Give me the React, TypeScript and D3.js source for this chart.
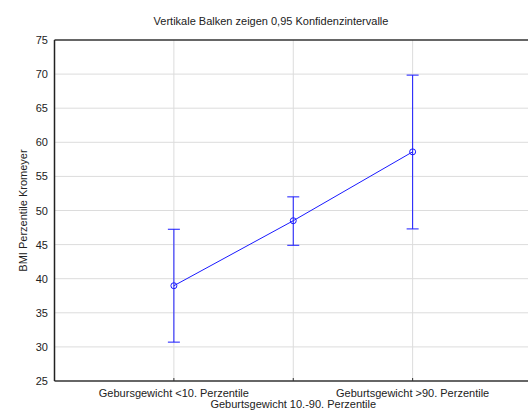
import React from "react";
import * as d3 from "d3";

const categories = [
  "Gebursgewicht <10. Perzentile",
  "Geburtsgewicht 10.-90. Perzentile",
  "Geburtsgewicht >90. Perzentile",
];
const means = [38.97, 48.5, 58.6];
const lower = [30.7, 44.9, 47.3];
const upper = [47.25, 52.0, 69.85];
const yTicks = [25, 30, 35, 40, 45, 50, 55, 60, 65, 70, 75];
const title = "Vertikale Balken zeigen 0,95 Konfidenzintervalle";
const yTitle = "BMI Perzentile Kromeyer";

export default function App() {
  const W = 528, H = 410;
  const left = 54.5, right = 532, top = 40, bottom = 381;
  const x = d3.scaleLinear().domain([0, 4]).range([left, right]);
  const y = d3.scaleLinear().domain([25, 75]).range([bottom, top]);
  const blue = "#1a1aff";
  const font = "'Liberation Sans', Arial, sans-serif";
  const line = d3
    .line<number>()
    .x((_, i) => x(i + 1))
    .y((d) => y(d));
  const xGrid = [1, 2, 3];
  return (
    <svg
      width={W}
      height={H}
      style={{ position: "absolute", left: 0, top: 0, background: "#fff" }}
      fontFamily={font}
    >
      <rect x={0} y={0} width={W} height={H} fill="#fff" />
      {yTicks.slice(1, -1).map((t) => (
        <line key={"g" + t} x1={left} x2={W} y1={y(t)} y2={y(t)} stroke="#dcdcdc" strokeWidth={1} />
      ))}
      {xGrid.map((g) => (
        <line key={"v" + g} x1={x(g)} x2={x(g)} y1={top} y2={bottom} stroke="#dcdcdc" strokeWidth={1} />
      ))}
      {xGrid.map((g) => (
        <line key={"t" + g} x1={x(g)} x2={x(g)} y1={bottom} y2={bottom - 3} stroke="#333" strokeWidth={1} />
      ))}
      <line x1={left} x2={W} y1={top} y2={top} stroke="#333" strokeWidth={1.5} />
      <line x1={left} x2={W} y1={bottom} y2={bottom} stroke="#333" strokeWidth={1.5} />
      <line x1={left} x2={left} y1={top} y2={bottom} stroke="#222" strokeWidth={1.5} />
      {yTicks.map((t) => (
        <text key={"l" + t} x={48} y={y(t) + 4} textAnchor="end" fontSize={11} fill="#222">
          {t}
        </text>
      ))}
      <text x={271} y={25} textAnchor="middle" fontSize={11} fill="#222">
        {title}
      </text>
      <text
        transform={`translate(27, ${(top + bottom) / 2}) rotate(-90)`}
        textAnchor="middle"
        fontSize={11}
        fill="#222"
      >
        {yTitle}
      </text>
      {categories.map((c, i) => (
        <text
          key={"c" + i}
          x={x(i + 1)}
          y={i === 1 ? 408 : 397}
          textAnchor="middle"
          fontSize={11}
          fill="#222"
        >
          {c}
        </text>
      ))}
      {means.map((m, i) => (
        <g key={"e" + i} stroke={blue} strokeWidth={1}>
          <line x1={x(i + 1)} x2={x(i + 1)} y1={y(lower[i])} y2={y(upper[i])} />
          <line x1={x(i + 1) - 6} x2={x(i + 1) + 6} y1={y(lower[i])} y2={y(lower[i])} />
          <line x1={x(i + 1) - 6} x2={x(i + 1) + 6} y1={y(upper[i])} y2={y(upper[i])} />
        </g>
      ))}
      <path d={line(means) || ""} fill="none" stroke={blue} strokeWidth={1} />
      {means.map((m, i) => (
        <circle key={"p" + i} cx={x(i + 1)} cy={y(m)} r={3} fill="none" stroke={blue} strokeWidth={1} />
      ))}
    </svg>
  );
}
